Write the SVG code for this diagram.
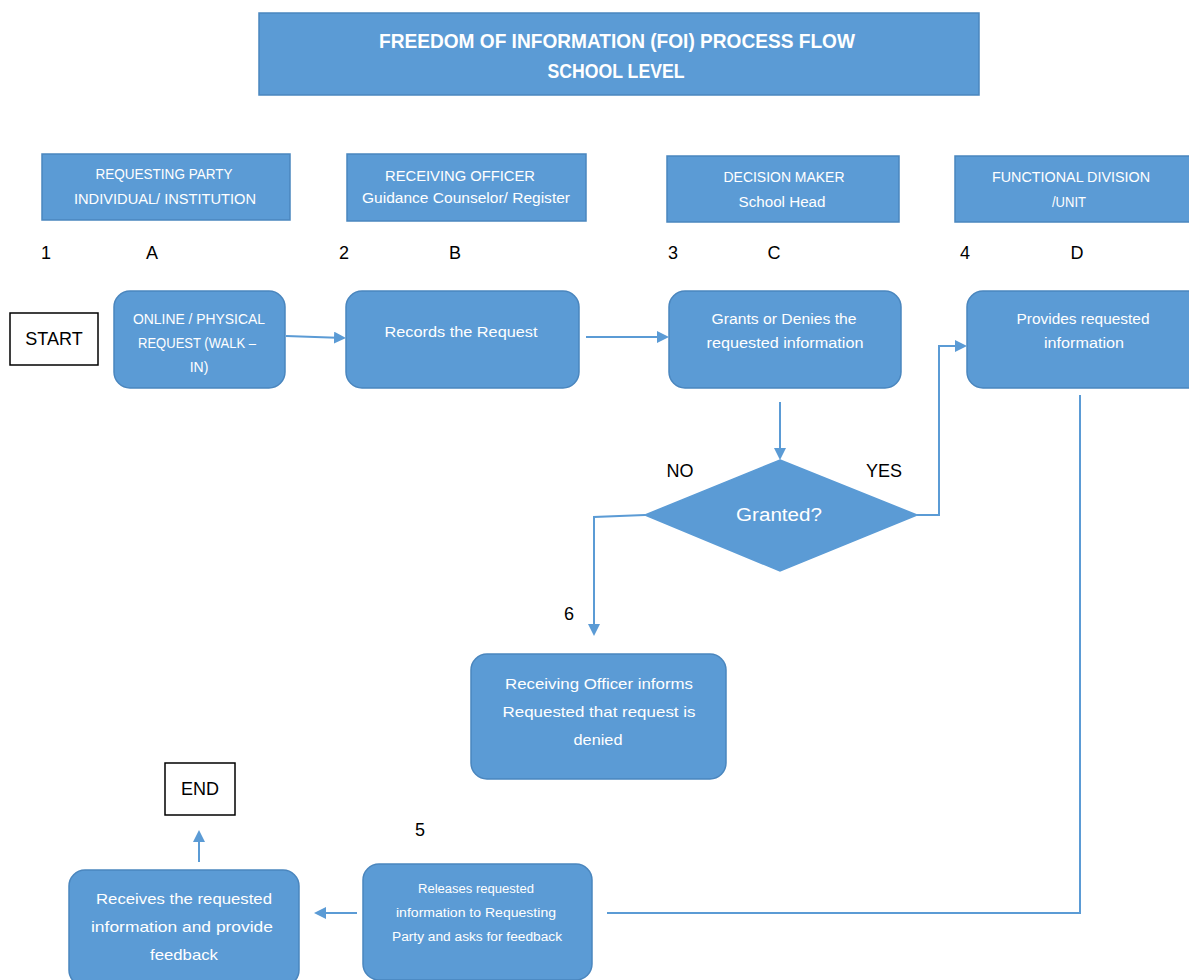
<svg xmlns="http://www.w3.org/2000/svg" width="1189" height="980" viewBox="0 0 1189 980">
<style>
.box{fill:#5B9BD5;stroke:#4A86BE;stroke-width:1.5}
.wt{fill:#fff;font-family:"Liberation Sans",Arial,sans-serif;text-anchor:middle;dominant-baseline:central}
.bt{fill:#000;font-family:"Liberation Sans",Arial,sans-serif;text-anchor:middle;dominant-baseline:central}
.term{fill:#fff;stroke:#000;stroke-width:1.5}
.con{fill:none;stroke:#5B9BD5;stroke-width:2}
</style>
<defs>
<marker id="ah" markerWidth="12" markerHeight="12" refX="10" refY="6" orient="auto" markerUnits="userSpaceOnUse">
<path d="M0,0 L12,6 L0,12 Z" fill="#5B9BD5"/>
</marker>
</defs>
<rect width="1189" height="980" fill="#fff"/>
<g id="title">
<rect class="box" x="259" y="13" width="720" height="82"/>
<text class="wt" x="617" y="40" font-size="21" font-weight="bold" textLength="476" lengthAdjust="spacingAndGlyphs">FREEDOM OF INFORMATION (FOI) PROCESS FLOW</text>
<text class="wt" x="616" y="70" font-size="21" font-weight="bold" textLength="137" lengthAdjust="spacingAndGlyphs">SCHOOL LEVEL</text>
</g>
<g id="hdr1">
<rect class="box" x="42" y="154" width="248" height="66"/>
<text class="wt" x="164" y="174" font-size="14" textLength="137" lengthAdjust="spacingAndGlyphs">REQUESTING PARTY</text>
<text class="wt" x="165" y="199" font-size="14" textLength="182" lengthAdjust="spacingAndGlyphs">INDIVIDUAL/ INSTITUTION</text>
</g>
<g id="hdr2">
<rect class="box" x="347" y="154" width="239" height="67"/>
<text class="wt" x="460" y="176" font-size="14" textLength="150" lengthAdjust="spacingAndGlyphs">RECEIVING OFFICER</text>
<text class="wt" x="466" y="198" font-size="14" textLength="208" lengthAdjust="spacingAndGlyphs">Guidance Counselor/ Register</text>
</g>
<g id="hdr3">
<rect class="box" x="667" y="156" width="232" height="66"/>
<text class="wt" x="784" y="177" font-size="14" textLength="121" lengthAdjust="spacingAndGlyphs">DECISION MAKER</text>
<text class="wt" x="782" y="202" font-size="14" textLength="87" lengthAdjust="spacingAndGlyphs">School Head</text>
</g>
<g id="hdr4">
<rect class="box" x="955" y="156" width="240" height="66"/>
<text class="wt" x="1071" y="177" font-size="14" textLength="158" lengthAdjust="spacingAndGlyphs">FUNCTIONAL DIVISION</text>
<text class="wt" x="1069" y="202" font-size="14" textLength="34" lengthAdjust="spacingAndGlyphs">/UNIT</text>
</g>
<g id="labels">
<text class="bt" x="46" y="253" font-size="18">1</text>
<text class="bt" x="152" y="253" font-size="18">A</text>
<text class="bt" x="344" y="253" font-size="18">2</text>
<text class="bt" x="455" y="253" font-size="18">B</text>
<text class="bt" x="673" y="253" font-size="18">3</text>
<text class="bt" x="774" y="253" font-size="18">C</text>
<text class="bt" x="965" y="253" font-size="18">4</text>
<text class="bt" x="1077" y="253" font-size="18">D</text>
<text class="bt" x="680" y="471" font-size="18">NO</text>
<text class="bt" x="884" y="471" font-size="18">YES</text>
<text class="bt" x="569" y="614" font-size="18">6</text>
<text class="bt" x="420" y="830" font-size="18">5</text>
</g>
<g id="start">
<rect class="term" x="10" y="313" width="88" height="52"/>
<text class="bt" x="54" y="339" font-size="18">START</text>
</g>
<g id="stepA">
<rect class="box" x="114" y="291" width="171" height="97" rx="16"/>
<text class="wt" x="199" y="319" font-size="14" textLength="132" lengthAdjust="spacingAndGlyphs">ONLINE / PHYSICAL</text>
<text class="wt" x="197" y="343" font-size="14" textLength="118" lengthAdjust="spacingAndGlyphs">REQUEST (WALK –</text>
<text class="wt" x="199" y="367" font-size="14">IN)</text>
</g>
<g id="stepB">
<rect class="box" x="346" y="291" width="233" height="97" rx="16"/>
<text class="wt" x="461" y="331" font-size="15" textLength="153" lengthAdjust="spacingAndGlyphs">Records the Request</text>
</g>
<g id="stepC">
<rect class="box" x="669" y="291" width="232" height="97" rx="16"/>
<text class="wt" x="784" y="319" font-size="14" textLength="145" lengthAdjust="spacingAndGlyphs">Grants or Denies the</text>
<text class="wt" x="785" y="343" font-size="14" textLength="157" lengthAdjust="spacingAndGlyphs">requested information</text>
</g>
<g id="stepD">
<rect class="box" x="967" y="291" width="240" height="97" rx="16"/>
<text class="wt" x="1083" y="319" font-size="14" textLength="133" lengthAdjust="spacingAndGlyphs">Provides requested</text>
<text class="wt" x="1084" y="343" font-size="14" textLength="80" lengthAdjust="spacingAndGlyphs">information</text>
</g>
<g id="decision">
<polygon class="box" points="780,460 917,515 780,571 645,515" style="stroke:#5B9BD5"/>
<text class="wt" x="779" y="515" font-size="18" textLength="86" lengthAdjust="spacingAndGlyphs">Granted?</text>
</g>
<g id="denied">
<rect class="box" x="471" y="654" width="255" height="125" rx="16"/>
<text class="wt" x="599" y="683" font-size="15" textLength="188" lengthAdjust="spacingAndGlyphs">Receiving Officer informs</text>
<text class="wt" x="599" y="711" font-size="15" textLength="193" lengthAdjust="spacingAndGlyphs">Requested that request is</text>
<text class="wt" x="598" y="739" font-size="15" textLength="49" lengthAdjust="spacingAndGlyphs">denied</text>
</g>
<g id="step5">
<rect class="box" x="363" y="864" width="229" height="116" rx="16"/>
<text class="wt" x="476" y="889" font-size="12" textLength="116" lengthAdjust="spacingAndGlyphs">Releases requested</text>
<text class="wt" x="476" y="913" font-size="12" textLength="160" lengthAdjust="spacingAndGlyphs">information to Requesting</text>
<text class="wt" x="477" y="937" font-size="12" textLength="170" lengthAdjust="spacingAndGlyphs">Party and asks for feedback</text>
</g>
<g id="receives">
<rect class="box" x="69" y="870" width="230" height="116" rx="16"/>
<text class="wt" x="184" y="898" font-size="15" textLength="176" lengthAdjust="spacingAndGlyphs">Receives the requested</text>
<text class="wt" x="182" y="926" font-size="15" textLength="182" lengthAdjust="spacingAndGlyphs">information and provide</text>
<text class="wt" x="184" y="954" font-size="15" textLength="68" lengthAdjust="spacingAndGlyphs">feedback</text>
</g>
<g id="end">
<rect class="term" x="165" y="763" width="70" height="52"/>
<text class="bt" x="200" y="789" font-size="18">END</text>
</g>
<g id="connectors">
<path class="con" d="M286,336 L344,338" marker-end="url(#ah)"/>
<path class="con" d="M586,337 L667,337" marker-end="url(#ah)"/>
<path class="con" d="M780,402 L780,458" marker-end="url(#ah)"/>
<path class="con" d="M917,515 L939,515 L939,346 L965,346" marker-end="url(#ah)"/>
<path class="con" d="M645,515 L594,517 L594,634" marker-end="url(#ah)"/>
<path class="con" d="M1080,395 L1080,913 L607,913"/>
<path class="con" d="M357,913 L316,913" marker-end="url(#ah)"/>
<path class="con" d="M199,862 L199,832" marker-end="url(#ah)"/>
</g>
</svg>
